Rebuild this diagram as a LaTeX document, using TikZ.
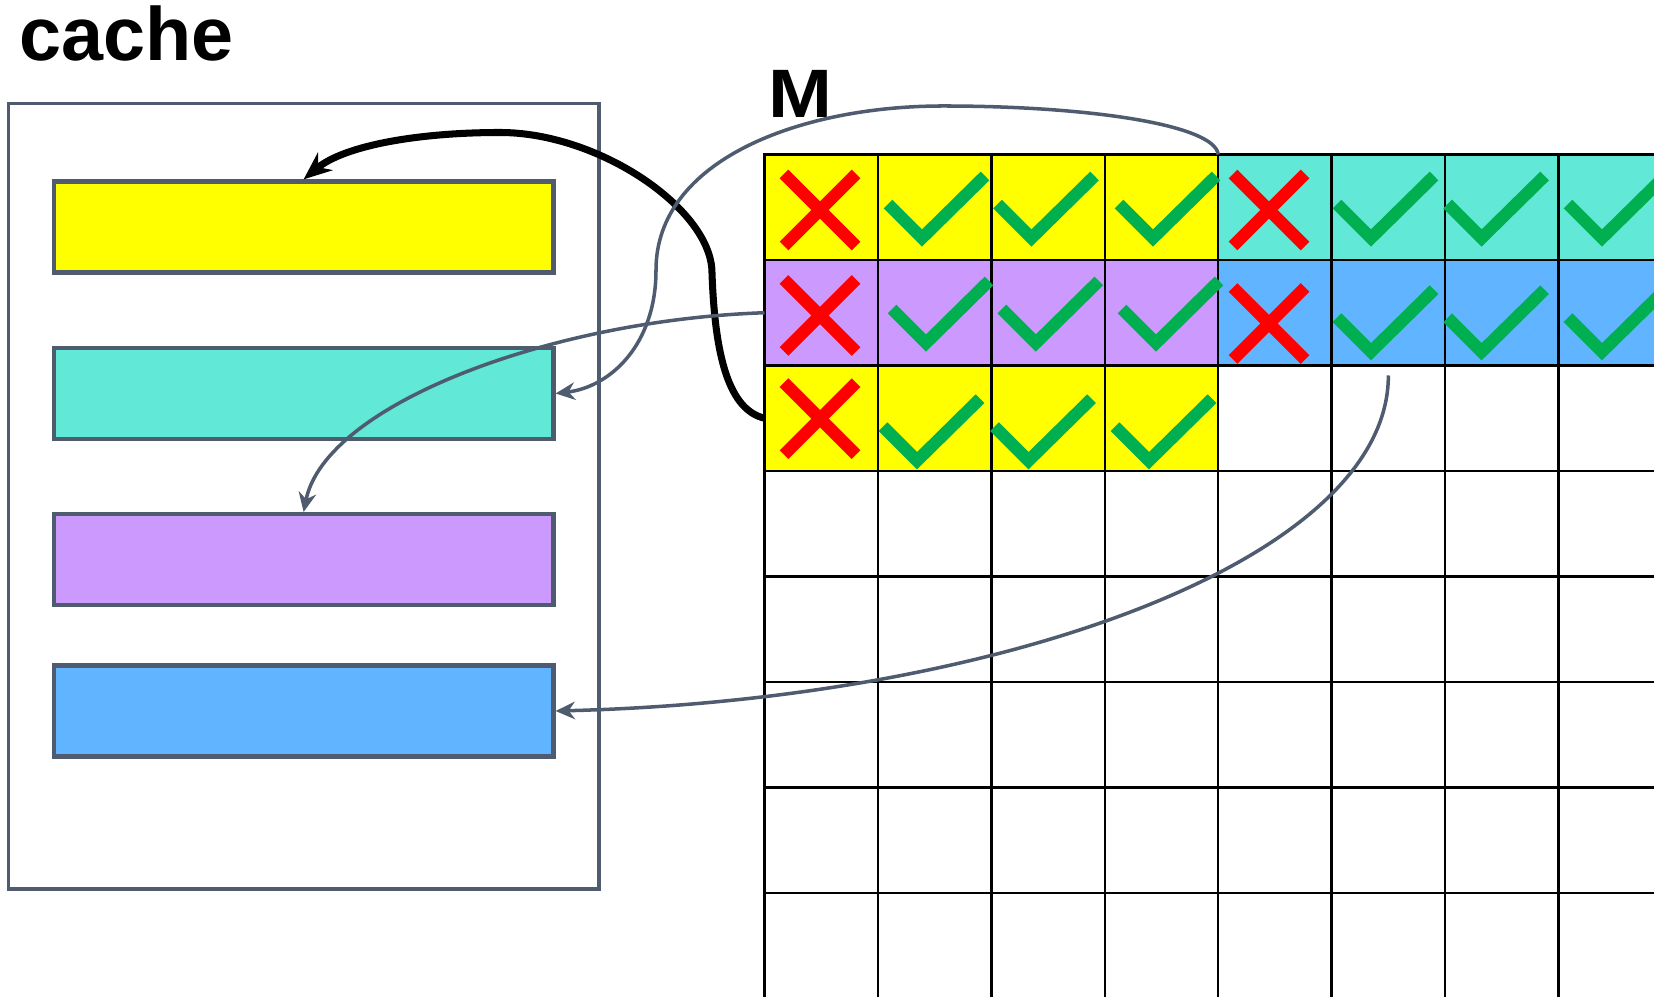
\documentclass[tikz,border=0pt]{standalone}
\usepackage{fontspec}
\setmainfont{Liberation Sans}
\usetikzlibrary{arrows.meta,backgrounds}

\definecolor{slate}{RGB}{79,91,110}
\definecolor{hlyellow}{RGB}{255,255,0}
\definecolor{hlteal}{RGB}{97,232,214}
\definecolor{hlpurple}{RGB}{204,153,255}
\definecolor{hlblue}{RGB}{97,180,255}
\definecolor{okgreen}{RGB}{0,176,80}
\definecolor{badred}{RGB}{255,0,0}

\tikzset{
  cell/.style={draw, line width=0.7pt, minimum width=1.1343cm, minimum height=1.055cm,
               inner sep=0pt, outer sep=0pt},
  slot/.style={draw=slate, line width=1.2pt, minimum width=4.998cm, minimum height=0.91cm,
               inner sep=0pt},
  link/.style={slate, line width=1pt, -{Stealth[length=5.5pt,width=5pt]}},
  title/.style={font=\bfseries\fontsize{21.5}{26}\selectfont, inner sep=0pt, anchor=base west},
  hit/.pic={\draw[okgreen, line width=3.5pt, line join=miter] (-0.34,-0.34) -- (0,0) -- (0.63,-0.62);},
  miss/.pic={\draw[badred, line width=3.5pt] (-0.36,-0.36) -- (0.36,0.36) (-0.36,0.36) -- (0.36,-0.36);}
}

\begin{document}
\begin{tikzpicture}[y=-1cm]
\useasboundingbox (0,0) rectangle (16.54,9.97);

\node[title] (lbl) at (0.19,0.607) {cache};
\node[title, font=\bfseries\fontsize{19.5}{22}\selectfont, xscale=1.12] (mlbl) at (7.68,1.175) {M};

% cache with its four lines
\node[draw=slate, line width=0.9pt, minimum width=5.906cm, minimum height=7.856cm,
      inner sep=0pt] (cache) at (3.037,4.962) {};
\node[slot, fill=hlyellow] (c1) at (3.036,2.27) {};
\node[slot, fill=hlteal]   (c2) at (3.036,3.935) {};
\node[slot, fill=hlpurple] (c3) at (3.036,5.596) {};
\node[slot, fill=hlblue]   (c4) at (3.036,7.11) {};

% matrix M
\foreach \r in {0,...,7}
  \foreach \c in {0,...,7}
    \node[cell] (m\r\c) at ({7.645+(\c+0.5)*1.1343},{1.545+(\r+0.5)*1.055}) {};

\begin{scope}[on background layer]
  \fill[hlyellow] (m00.north west) rectangle (m03.south east);
  \fill[hlteal]   (m04.north west) rectangle (m07.south east);
  \fill[hlpurple] (m10.north west) rectangle (m13.south east);
  \fill[hlblue]   (m14.north west) rectangle (m17.south east);
  \fill[hlyellow] (m20.north west) rectangle (m23.south east);
\end{scope}

\foreach \x/\y in {8.20/2.10, 12.69/2.10, 8.20/3.155, 12.69/3.235, 8.20/4.187}
  \pic at (\x,\y) {miss};
\foreach \x/\y in {9.22/2.38, 10.315/2.38, 11.53/2.38, 13.71/2.38, 14.816/2.38, 16.02/2.38,
                   9.26/3.43, 10.358/3.43, 11.56/3.43, 13.71/3.517, 14.816/3.517, 16.02/3.517,
                   9.17/4.607, 10.285/4.607, 11.49/4.607}
  \pic at (\x,\y) {hit};

% loads into the cache
\draw[line width=2pt, -{Stealth[length=8pt,width=6.5pt]}] (m20.west)
  .. controls (7.3,4.1) and (7.15,3.6) .. (7.12,2.73)
  .. controls (7.12,2.1) and (6.0,1.325) .. (5.0,1.325)
  .. controls (4.2,1.325) and (3.45,1.45) .. (c1.north);
\draw[link] (m04.north west)
  .. controls (12.15,1.25) and (10.9,1.06) .. (9.43,1.06)
  .. controls (8.0,1.06) and (6.56,1.6) .. (6.56,2.7)
  .. controls (6.56,3.45) and (6.1,3.87) .. (c2.east);
\draw[link] (m10.west) .. controls (5.5,3.2) and (3.25,4.05) .. (c3.north);
\draw[link, shorten <=0.1cm] (m15.south) .. controls (13.884,5.6) and (10.0,7.0) .. (c4.east);
\end{tikzpicture}
\end{document}
